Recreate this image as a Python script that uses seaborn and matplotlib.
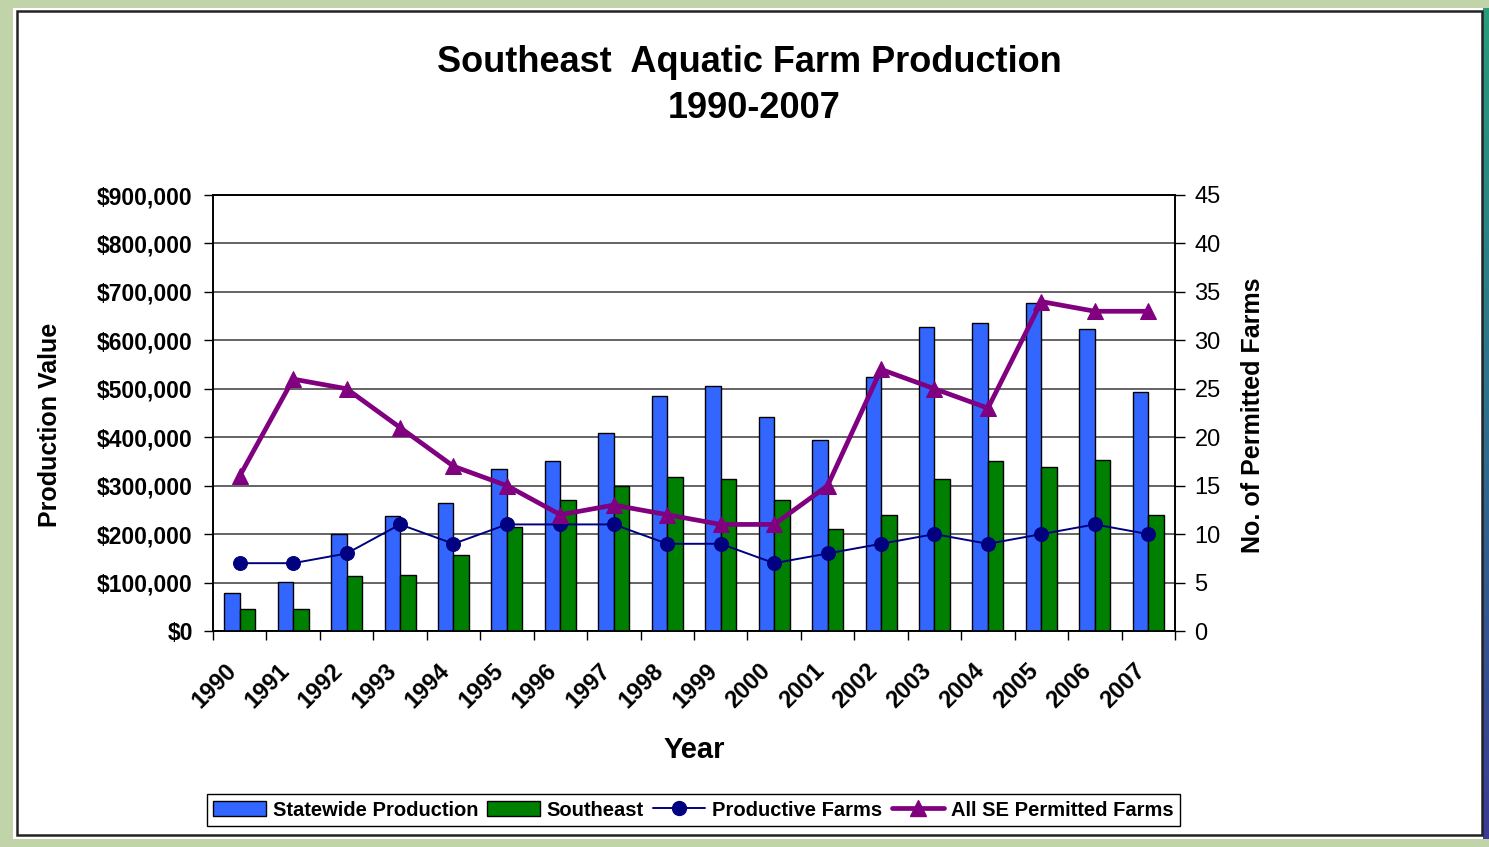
import numpy as np
import pandas as pd
import matplotlib
matplotlib.use("Agg")
import matplotlib.pyplot as plt
import matplotlib.transforms as mtransforms
import seaborn as sns
from matplotlib.patches import Rectangle, Patch
from matplotlib.lines import Line2D
from matplotlib.colors import LinearSegmentedColormap

# ---------------- data ----------------
years = ["1990", "1991", "1992", "1993", "1994", "1995", "1996", "1997", "1998",
         "1999", "2000", "2001", "2002", "2003", "2004", "2005", "2006", "2007"]
statewide = [78000, 102000, 200000, 237000, 264000, 335000, 350000, 409000, 486000,
             506000, 442000, 394000, 524000, 627000, 636000, 678000, 624000, 494000]
southeast = [45000, 45000, 113000, 116000, 157000, 214000, 270000, 299000, 317000,
             314000, 270000, 211000, 240000, 314000, 350000, 338000, 352000, 240000]
productive_farms = [7, 7, 8, 11, 9, 11, 11, 11, 9, 9, 7, 8, 9, 10, 9, 10, 11, 10]
permitted_farms = [16, 26, 25, 21, 17, 15, 12, 13, 12, 11, 11, 15, 27, 25, 23, 34, 33, 33]
series_names = ["Statewide Production", "Southeast"]
line_names = ["Productive Farms", "All SE Permitted Farms"]
left_ticks = [0, 100000, 200000, 300000, 400000, 500000, 600000, 700000, 800000, 900000]
left_labels = ["$" + format(v, ",") for v in left_ticks]
right_ticks = [0, 5, 10, 15, 20, 25, 30, 35, 40, 45]

title1 = "Southeast  Aquatic Farm Production"
title2 = "1990-2007"

# ---------------- style ----------------
sns.set_theme(style="white")
plt.rcParams["font.family"] = ["Liberation Sans", "DejaVu Sans"]
plt.rcParams["text.color"] = "black"
plt.rcParams["axes.labelcolor"] = "black"
plt.rcParams["xtick.color"] = "black"
plt.rcParams["ytick.color"] = "black"

W, H = 1489, 847
fig = plt.figure(figsize=(W / 100, H / 100), dpi=100)
fig.patch.set_facecolor("white")

BLUE = "#3366ff"
GREEN = "#008000"
NAVY = "#000080"
PURPLE = "#800080"
BG_GREEN = "#c1d4a9"


def frect(x0, y0, x1, y1, **kw):
    return Rectangle((x0 / W, 1 - y1 / H), (x1 - x0) / W, (y1 - y0) / H,
                     transform=fig.transFigure, **kw)


# background strips
fig.add_artist(frect(0, 0, 13, H, facecolor=BG_GREEN, edgecolor="none", zorder=0))
fig.add_artist(frect(0, 0, W, 8, facecolor=BG_GREEN, edgecolor="none", zorder=0))
fig.add_artist(frect(0, 839, W, H, facecolor=BG_GREEN, edgecolor="none", zorder=0))
gax = fig.add_axes([1483 / W, 1 - 839 / H, 6 / W, (839 - 8) / H])
cmap = LinearSegmentedColormap.from_list("edge", ["#2a9c7c", "#2f6f8e", "#3b3b94"])
gax.imshow(np.linspace(0, 1, 100).reshape(-1, 1), aspect="auto", cmap=cmap)
gax.set_axis_off()
fig.add_artist(frect(17, 11, 1482, 835, facecolor="none", edgecolor="#222222",
                     linewidth=1.8, zorder=5))

# ---------------- main axes ----------------
ax = fig.add_axes([213 / W, 1 - 631 / H, (1175 - 213) / W, (631 - 195) / H])
ax.set_facecolor("white")

df = pd.DataFrame({
    "Year": years * 2,
    "Value": statewide + southeast,
    "Series": [series_names[0]] * len(years) + [series_names[1]] * len(years),
})
sns.barplot(data=df, x="Year", y="Value", hue="Series", hue_order=series_names,
            order=years, palette=[BLUE, GREEN], width=0.58, gap=0,
            edgecolor="black", linewidth=1.0, saturation=1, errorbar=None,
            legend=False, ax=ax, zorder=3)

ax.set_ylim(0, 900000)
ax.set_yticks(left_ticks)
ax.set_yticklabels(left_labels, fontweight="bold")
ax.yaxis.grid(True, color="#3a3a3a", linewidth=1.1)
ax.xaxis.grid(False)
ax.set_axisbelow(True)
for s in ax.spines.values():
    s.set_color("black")
    s.set_linewidth(1.2)

ax2 = ax.twinx()
xpos = np.arange(len(years))
sns.lineplot(x=xpos, y=productive_farms, ax=ax2, color=NAVY, linewidth=1.4,
             marker="o", markersize=10, markeredgecolor=NAVY)
sns.lineplot(x=xpos, y=permitted_farms, ax=ax2, color=PURPLE, linewidth=3.4,
             marker="^", markersize=11, markeredgecolor=PURPLE)
ax2.set_ylim(0, 45)
ax2.set_yticks(right_ticks)
ax2.set_ylabel("")
for s in ax2.spines.values():
    s.set_color("black")
    s.set_linewidth(1.2)

ax.set_xlim(-0.5, len(years) - 0.5)
ax.set_xlabel("")
ax.set_ylabel("")

# x ticks
ax.set_xticks(xpos)
ax.set_xticklabels(years, fontweight="bold")
ax.set_xticks(np.arange(-0.5, len(years), 1.0), minor=True)
ax.tick_params(axis="x", which="major", length=0, pad=26, labelsize=17,
               bottom=True)
ax.tick_params(axis="x", which="minor", length=6.5, width=1.0, color="black",
               direction="out", bottom=True)
shift = mtransforms.ScaledTranslation(-7 / 100, 0, fig.dpi_scale_trans)
for lbl in ax.get_xticklabels():
    lbl.set_rotation(45)
    lbl.set_ha("right")
    lbl.set_va("center")
    lbl.set_rotation_mode("anchor")
    lbl.set_transform(lbl.get_transform() + shift)

ax.tick_params(axis="y", which="major", length=6.5, width=1.0, color="black",
               direction="out", pad=8, labelsize=16.5, left=True)
ax2.tick_params(axis="y", which="major", length=7, width=1.0, color="black",
                direction="out", pad=7, labelsize=17, right=True)

# ---------------- texts ----------------
fig.text(749 / W, 1 - 62 / H, title1, ha="center", va="center", fontsize=26,
         fontweight="bold")
fig.text(754 / W, 1 - 109 / H, title2, ha="center", va="center", fontsize=26,
         fontweight="bold")
fig.text(50 / W, 1 - 425 / H, "Production Value", ha="center", va="center",
         rotation=90, fontsize=18, fontweight="bold")
fig.text(1253 / W, 1 - 415 / H, "No. of Permitted Farms", ha="center",
         va="center", rotation=90, fontsize=18, fontweight="bold")
fig.text(694 / W, 1 - 750 / H, "Year", ha="center", va="center", fontsize=21,
         fontweight="bold")

# ---------------- legend ----------------
handles = [
    Patch(facecolor=BLUE, edgecolor="black", linewidth=1.0),
    Patch(facecolor=GREEN, edgecolor="black", linewidth=1.0),
    Line2D([], [], color=NAVY, linewidth=1.4, marker="o", markersize=10),
    Line2D([], [], color=PURPLE, linewidth=3.4, marker="^", markersize=11),
]
leg = fig.legend(handles, series_names + line_names, loc="center",
                 bbox_to_anchor=(693.5 / W, 1 - 810 / H), ncol=4, frameon=True,
                 fancybox=False, edgecolor="black", framealpha=1,
                 prop={"weight": "bold", "size": 14.5}, handlelength=2.6,
                 handleheight=0.8, handletextpad=0.35, columnspacing=0.45,
                 borderpad=0.3)
leg.get_frame().set_linewidth(1.0)

fig.savefig("out.png", dpi=100, facecolor=fig.get_facecolor())
